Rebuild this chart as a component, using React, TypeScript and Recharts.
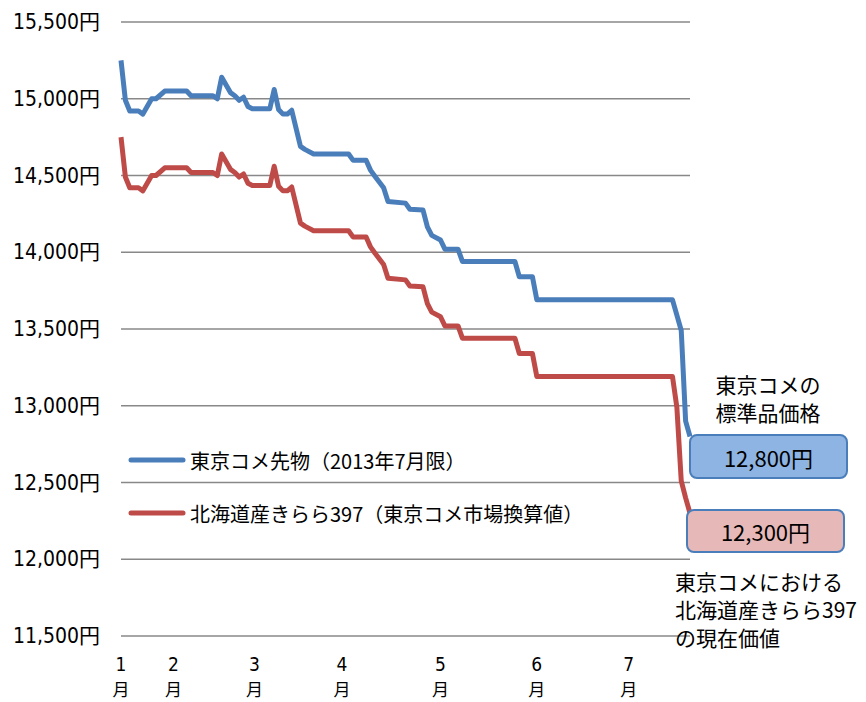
import { LineChart, Line, XAxis, YAxis, CartesianGrid, Legend } from "recharts";

// trading-day index (0 = first day in January) and prices in yen
const DAYS = [
  0, 1, 2, 4, 5, 7, 8, 10, 15, 16, 21, 22, 23, 25, 26, 27, 28, 29, 30, 34,
  35, 36, 37, 38, 39, 41, 42, 44, 52, 53, 56, 57, 58, 60, 61, 65, 66, 69, 70, 71,
  73, 74, 77, 78, 90, 91, 94, 95, 126, 127, 128, 129, 130,
];
const FUTURES = [
  15250, 14990, 14920, 14920, 14900, 15000, 15000, 15050, 15050, 15020,
  15020, 15000, 15140, 15040, 15020, 14990, 15010, 14950, 14935, 14935,
  15060, 14930, 14900, 14900, 14925, 14690, 14670, 14640, 14640, 14600,
  14600, 14535, 14495, 14420, 14330, 14320, 14280, 14275, 14165, 14110,
  14080, 14020, 14020, 13940, 13940, 13840, 13840, 13690, 13690, 13590,
  13490, 12900, 12800,
];
const KIRARA = [
  14750, 14490, 14420, 14420, 14400, 14500, 14500, 14550, 14550, 14520,
  14520, 14500, 14640, 14540, 14520, 14490, 14510, 14450, 14435, 14435,
  14560, 14430, 14400, 14400, 14425, 14190, 14170, 14140, 14140, 14100,
  14100, 14035, 13995, 13920, 13830, 13820, 13780, 13775, 13665, 13610,
  13580, 13520, 13520, 13440, 13440, 13340, 13340, 13190, 13190, 12990,
  12510, 12400, 12300,
];
const MONTH_TICKS = [0, 12, 30.5, 50.5, 73, 95, 116];
const MONTH_LABELS = ["1", "2", "3", "4", "5", "6", "7"];
const Y_TICKS = [11500, 12000, 12500, 13000, 13500, 14000, 14500, 15000, 15500];
const SERIES = ["東京コメ先物（2013年7月限）", "北海道産きらら397（東京コメ市場換算値）"];

const BLUE = "#4A7EBB";
const RED = "#BE4B48";
const NUM_FONT = '"Liberation Sans Narrow", "Arial Narrow", "DejaVu Sans Condensed", "Noto Sans CJK JP", sans-serif';
const JP_FONT = '"Noto Sans CJK JP", sans-serif';

const data = DAYS.map((d, i) => ({ d, futures: FUTURES[i], kirara: KIRARA[i] }));

function YTick({ x, y, payload }: any) {
  return (
    <text x={x} y={y} textAnchor="end" dominantBaseline="central" fontSize={21} fill="#000" fontFamily={NUM_FONT}>
      {payload.value.toLocaleString("en-US")}円
    </text>
  );
}

// month number above, 月 below, as one text
function XTick({ x, y, payload }: any) {
  const label = MONTH_LABELS[MONTH_TICKS.indexOf(payload.value)];
  return (
    <text x={x} y={y + 35} textAnchor="middle" fontFamily={NUM_FONT} fontSize={19} fill="#000">
      <tspan x={x}>{label}</tspan>
      <tspan x={x} dy={25} fontFamily={JP_FONT} fontSize={17}>月</tspan>
    </text>
  );
}

function LegendBox({ payload }: any) {
  const items = [...(payload || [])].sort((a: any, b: any) => SERIES.indexOf(a.value) - SERIES.indexOf(b.value));
  return (
    <div style={{ fontFamily: JP_FONT, fontSize: 20, color: "#000" }}>
      {items.map((p: any, i: number) => (
        <div key={i} style={{ display: "flex", alignItems: "center", height: 30, marginBottom: 23 }}>
          <svg width={58} height={10} style={{ marginRight: 4 }}>
            <line x1={3} y1={5} x2={55} y2={5} stroke={p.color} strokeWidth={5} strokeLinecap="round" />
          </svg>
          <span>{p.value}</span>
        </div>
      ))}
    </div>
  );
}

export default function App() {
  return (
    <div style={{ position: "absolute", left: 0, top: 0, width: 866, height: 702, background: "#fff" }}>
      <LineChart width={866} height={702} data={data} margin={{ top: 22, right: 176, bottom: 0, left: 10 }}>
        <CartesianGrid vertical={false} stroke="#888" strokeWidth={1.5} />
        <XAxis
          dataKey="d"
          type="number"
          domain={[0, 130]}
          ticks={MONTH_TICKS}
          interval={0}
          axisLine={false}
          tickLine={false}
          tickSize={0}
          tickMargin={0}
          height={66}
          tick={<XTick />}
        />
        <YAxis
          type="number"
          domain={[11500, 15500]}
          ticks={Y_TICKS}
          interval={0}
          axisLine={false}
          tickLine={false}
          tickSize={0}
          tickMargin={21}
          width={111}
          tick={<YTick />}
        />
        <Legend
          layout="vertical"
          align="center"
          verticalAlign="middle"
          wrapperStyle={{ left: 128, top: 445, width: 520, height: 90 }}
          content={<LegendBox />}
        />
        <Line type="linear" dataKey="futures" name={SERIES[0]} stroke={BLUE} strokeWidth={5}
          strokeLinejoin="round" dot={false} activeDot={false} isAnimationActive={false} />
        <Line type="linear" dataKey="kirara" name={SERIES[1]} stroke={RED} strokeWidth={5}
          strokeLinejoin="round" dot={false} activeDot={false} isAnimationActive={false} />
      </LineChart>

      <div style={{ position: "absolute", left: 690, top: 370, width: 156, textAlign: "center", fontFamily: JP_FONT, fontSize: 21, lineHeight: "28px" }}>
        東京コメの<br />標準品価格
      </div>
      <div style={{ position: "absolute", left: 689, top: 434, width: 159, height: 45, boxSizing: "border-box", borderRadius: 8,
        background: "#8DB4E2", border: `2px solid ${BLUE}`, display: "flex", alignItems: "center", justifyContent: "center",
        fontFamily: JP_FONT, fontSize: 22 }}>
        12,800円
      </div>
      <div style={{ position: "absolute", left: 686, top: 509, width: 159, height: 44, boxSizing: "border-box", borderRadius: 8,
        background: "#E6B9B8", border: `2px solid ${BLUE}`, display: "flex", alignItems: "center", justifyContent: "center",
        fontFamily: JP_FONT, fontSize: 22 }}>
        12,300円
      </div>
      <div style={{ position: "absolute", left: 675, top: 567, fontFamily: JP_FONT, fontSize: 21, lineHeight: "28px", whiteSpace: "pre" }}>
        東京コメにおける<br />北海道産きらら397<br />の現在価値
      </div>
    </div>
  );
}
